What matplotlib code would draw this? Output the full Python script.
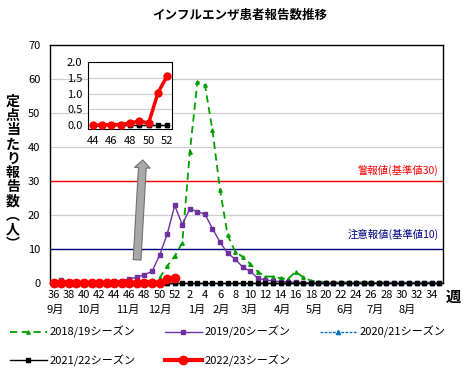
import matplotlib
matplotlib.use("Agg")
import matplotlib.pyplot as plt
import numpy as np

plt.rcParams['font.family'] = ['Noto Sans CJK JP', 'DejaVu Sans']

weeks = list(range(36, 53)) + list(range(1, 36))
tick_weeks = list(range(36, 53, 2)) + list(range(2, 35, 2))
months = ["9月", "10月", "11月", "12月", "1月", "2月", "3月", "4月", "5月", "6月", "7月", "8月"]
month_pos = [0.2, 4.6, 9.8, 14.0, 18.9, 22.2, 25.9, 30.2, 34.5, 38.5, 42.5, 46.7]

s2018 = [0.2, 0.2, 0.2, 0.2, 0.2, 0.2, 0.2, 0.2, 0.2, 0.3, 0.3, 0.4,
         0.5, 0.8, 1.5, 4.9, 7.9,
         11.8, 38.4, 59.2, 58.2, 44.9, 27.4, 14.1, 9.2, 7.7, 5.6, 3.3, 1.9, 1.9, 1.4, 1.2,
         3.3, 1.7, 0.7, 0.4, 0.3, 0.2, 0.2, 0.2, 0.2, 0.2, 0.2, 0.2, 0.1, 0.1, 0.1, 0.1,
         0.1, 0.1, 0.1, 0.1]
s2019 = [0.4, 0.8, 0.4, 0.4, 0.4, 0.4, 0.4, 0.5, 0.5, 0.7, 1.2, 1.7,
         2.5, 3.4, 8.2, 14.3, 22.8,
         17.2, 21.8, 21.0, 20.2, 16.0, 12.0, 8.8, 7.0, 4.7, 3.4, 1.4, 0.9, 0.6, 0.4, 0.3,
         0.2, 0.1, 0.1, 0.1, 0.0, 0.0, 0.0, 0.0, 0.0, 0.0, 0.0, 0.0, 0.0, 0.0, 0.0, 0.0,
         0.0, 0.0, 0.0, 0.0]
s2020 = [0.0] * 52
s2021 = [0.0] * 52
s2022 = [0.03, 0.03, 0.02, 0.02, 0.02, 0.02, 0.02, 0.02, 0.0, 0.01, 0.02, 0.02,
         0.07, 0.13, 0.07, 1.03, 1.57]

labels = ["2018/19シーズン", "2019/20シーズン", "2020/21シーズン", "2021/22シーズン", "2022/23シーズン"]

W, H = 463, 371
fig = plt.figure(figsize=(W / 100, H / 100), dpi=100)
ax = fig.add_axes([50 / W, 1 - 283 / H, 393 / W, 238 / H])

x = np.arange(len(weeks))
x22 = np.arange(len(s2022))

l1, = ax.plot(x, s2018, color='#00a000', ls=(0, (4, 2.5)), lw=1.3, marker='^', ms=2.5, label=labels[0], clip_on=False, zorder=3)
l2, = ax.plot(x, s2019, color='#7030a0', lw=1.0, marker='s', ms=3, label=labels[1], clip_on=False, zorder=4)
l3, = ax.plot(x, s2020, color='#0070c0', ls=(0, (2, 1)), lw=1.0, marker='^', ms=3, label=labels[2], clip_on=False, zorder=4)
l4, = ax.plot(x, s2021, color='black', lw=1.0, marker='s', ms=3, label=labels[3], clip_on=False, zorder=5)
l5, = ax.plot(x22, s2022, color='#ff0000', lw=3, marker='o', ms=6, label=labels[4], clip_on=False, zorder=6)

ax.axhline(30, color='#ff0000', lw=1.0, zorder=2)
ax.axhline(10, color='#000080', lw=1.0, zorder=2)
ax.text(50.9, 33.0, "警報値(基準値30)", color='#ff0000', fontsize=7.5, ha='right', va='center')
ax.text(50.9, 14.4, "注意報値(基準値10)", color='#000080', fontsize=7.5, ha='right', va='center')

ax.set_xlim(-0.5, 51.5)
ax.set_ylim(0, 70)
ax.set_yticks(range(0, 71, 10))
ax.yaxis.grid(True, color='#c8d2c8', lw=0.9)
ax.set_axisbelow(True)
ax.set_xticks([weeks.index(w) for w in tick_weeks])
ax.set_xticklabels([str(w) for w in tick_weeks])
ax.tick_params(axis='both', length=0, labelsize=8)
ax.tick_params(axis='x', pad=5)
ax.tick_params(axis='y', pad=7)
for sp in ax.spines.values():
    sp.set_color('black')
    sp.set_linewidth(1.0)

for m, p in zip(months, month_pos):
    ax.text(p, -0.113, m, transform=ax.get_xaxis_transform(), fontsize=8, ha='center', va='center')

fig.text(453 / W, 1 - 297 / H, "週", fontsize=11, fontweight='bold', ha='center', va='center')

# arrow
ax.annotate('', xy=(11.8, 37.0), xytext=(11.0, 6.0),
            arrowprops=dict(arrowstyle='simple,head_length=0.7,head_width=1.4,tail_width=0.7',
                            fc='#a8a8a8', ec='#707070', lw=0.8, mutation_scale=8), zorder=7)

# title and ylabel
fig.text(240 / W, 1 - 15 / H, "インフルエンザ患者報告数推移", fontsize=9, fontweight='bold', ha='center', va='center')
ylab = "\n".join(list("定点当たり報告数") + ["︵", "人", "︶"])
fig.text(13 / W, 1 - 173 / H, ylab, fontsize=10, fontweight='bold', ha='center', va='center', linespacing=1.02)

# inset
ins_weeks = list(range(44, 53))
ins_idx = [weeks.index(w) for w in ins_weeks]
axi = fig.add_axes([88 / W, 1 - 129 / H, 84 / W, 67 / H])
xi = np.arange(len(ins_weeks))
axi.plot(xi, [s2020[i] for i in ins_idx], color='#0070c0', ls=(0, (2, 1)), lw=1.0, marker='^', ms=3, clip_on=False, zorder=3)
axi.plot(xi, [s2021[i] for i in ins_idx], color='black', lw=1.0, marker='s', ms=3, clip_on=False, zorder=4)
axi.plot(xi, [s2022[i] for i in ins_idx], color='#ff0000', lw=2.5, marker='o', ms=5, clip_on=False, zorder=5)
axi.set_xlim(-0.5, 8.5)
axi.set_ylim(-0.12, 2.0)
axi.set_yticks([0.0, 0.5, 1.0, 1.5, 2.0])
axi.set_yticklabels(["0.0", "0.5", "1.0", "1.5", "2.0"])
axi.set_xticks(xi[::2])
axi.set_xticklabels([str(w) for w in ins_weeks[::2]])
axi.yaxis.grid(True, color='#c8d2c8', lw=0.9)
axi.set_axisbelow(True)
axi.tick_params(axis='both', length=0, labelsize=8)
axi.tick_params(axis='x', pad=5)
axi.tick_params(axis='y', pad=4)
axi.set_facecolor('white')

# legend (column-major fill -> order so rows read l1 l2 l3 / l4 l5)
handles = [l1, l4, l2, l5, l3]
fig.legend(handles=handles, labels=[h.get_label() for h in handles], loc='upper left',
           bbox_to_anchor=(10 / W, 1 - 326 / H), ncol=3, frameon=False, fontsize=8,
           handlelength=3.3, handletextpad=0.3, columnspacing=2.6, labelspacing=1.45,
           borderaxespad=0, borderpad=0)

fig.savefig("out.png", dpi=100)
